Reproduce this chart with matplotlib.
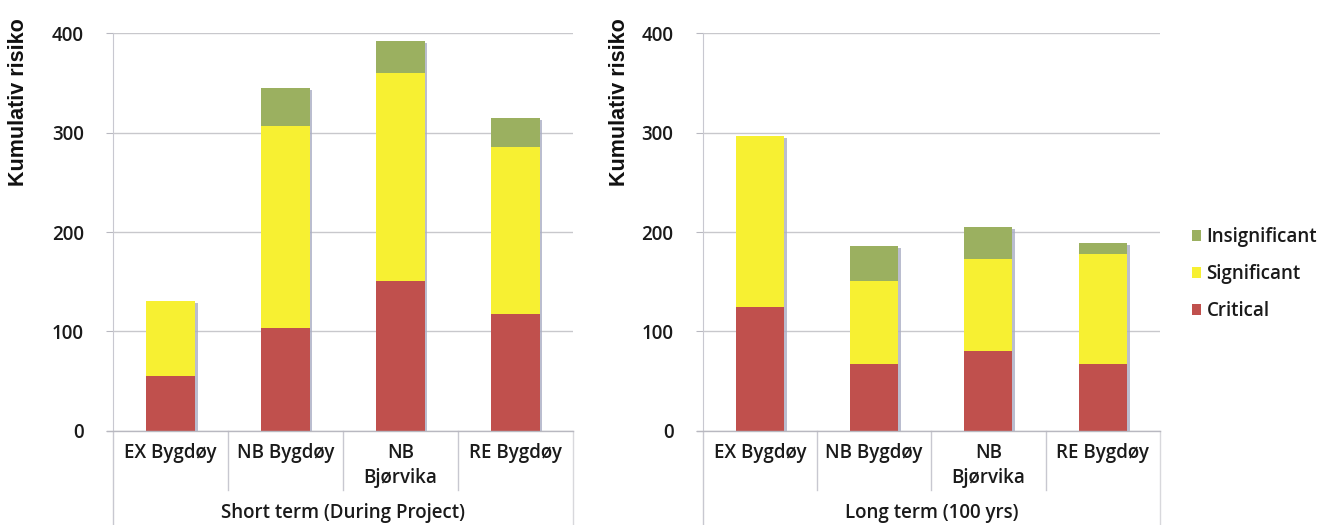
import matplotlib
matplotlib.use('Agg')
import matplotlib.pyplot as plt
import matplotlib.transforms as mtransforms
import numpy as np

plt.rcParams['font.family'] = ['Open Sans', 'DejaVu Sans']

categories = ['EX Bygdøy', 'NB Bygdøy', 'NB\nBjørvika', 'RE Bygdøy']
series = ['Critical', 'Significant', 'Insignificant']
colors = ['#c0504d', '#f7f032', '#9bb060']

# short term (during project)
short_critical = [55, 103, 151, 118]
short_significant = [76, 204, 209, 168]
short_insignificant = [0, 38, 32, 29]

# long term (100 yrs)
long_critical = [125, 67, 80, 67]
long_significant = [172, 84, 93, 111]
long_insignificant = [0, 35, 32, 11]

group_titles = ['Short term (During Project)', 'Long term (100 yrs)']

fig = plt.figure(figsize=(13.41, 5.25), dpi=100)
ax1 = fig.add_axes([0.0843, 0.1796, 0.343, 0.7566])
ax2 = fig.add_axes([0.524, 0.1796, 0.341, 0.7566])

x = np.arange(len(categories))
w = 0.42
fs = 13.5
handles = []
for ax, data, title in [(ax1, [short_critical, short_significant, short_insignificant], group_titles[0]),
                        (ax2, [long_critical, long_significant, long_insignificant], group_titles[1])]:
    bottom = np.zeros(len(categories))
    total = np.sum(data, axis=0)
    # grey shadow at right side of bars
    ax.bar(x + w / 2 + 0.012, total - 2, width=0.025, bottom=0, color='#a9adc4', zorder=2, alpha=0.8)
    hs = []
    for vals, name, c in zip(data, series, colors):
        b = ax.bar(x, vals, width=w, bottom=bottom, color=c, label=name, zorder=3)
        hs.append(b)
        bottom += np.array(vals)
    handles = hs

    ax.set_xlim(-0.5, 3.5)
    ax.set_ylim(0, 400)
    ax.set_yticks([0, 100, 200, 300, 400])
    ax.yaxis.grid(True, color='#c8c8cc', linewidth=1.0)
    ax.set_axisbelow(True)
    for s in ['top', 'right', 'bottom']:
        ax.spines[s].set_visible(False)
    ax.spines['left'].set_color('#c8c8d0')
    ax.tick_params(axis='y', length=5, color='#b8b8c0', pad=16, labelsize=fs, labelcolor='#1a1a1a')
    ax.tick_params(axis='x', length=0, pad=9, labelsize=fs, labelcolor='#1a1a1a')
    ax.set_xticks(x)
    ax.set_xticklabels(categories, linespacing=1.3)
    for t in ax.get_xticklabels() + ax.get_yticklabels():
        t.set_fontweight('semibold')

    trans = mtransforms.blended_transform_factory(ax.transData, ax.transAxes)
    ax.plot([-0.55, 3.5], [0, 0], transform=trans, color='#b8b8c0', lw=1.0, clip_on=False, zorder=4)
    for xd in [0.5, 1.5, 2.5]:
        ax.plot([xd, xd], [0, -0.15], transform=trans, color='#c8c8d0', lw=1.0, clip_on=False)
    ax.plot([-0.5, -0.5], [0, -0.24], transform=trans, color='#c8c8d0', lw=1.0, clip_on=False)
    ax.plot([3.5, 3.5], [0, -0.24], transform=trans, color='#d8d8dc', lw=1.0, clip_on=False)
    ax.text(1.5, -0.208, title, transform=trans, ha='center', va='center', fontsize=fs,
            fontweight='semibold', color='#1a1a1a')

for xf in [0.0135, 0.462]:
    fig.text(xf, 0.805, 'Kumulativ risiko', rotation=90, ha='center', va='center',
             fontsize=15.5, fontweight='bold', family='Liberation Sans', color='#111111')

leg = fig.legend(handles[::-1], series[::-1], loc='center left', bbox_to_anchor=(0.876, 0.478),
                 frameon=False, fontsize=fs, handlelength=0.5, handleheight=0.5,
                 handletextpad=0.3, labelspacing=0.9)
for t in leg.get_texts():
    t.set_color('#1a1a1a')
    t.set_fontweight('semibold')

fig.savefig('out.png', dpi=100)
